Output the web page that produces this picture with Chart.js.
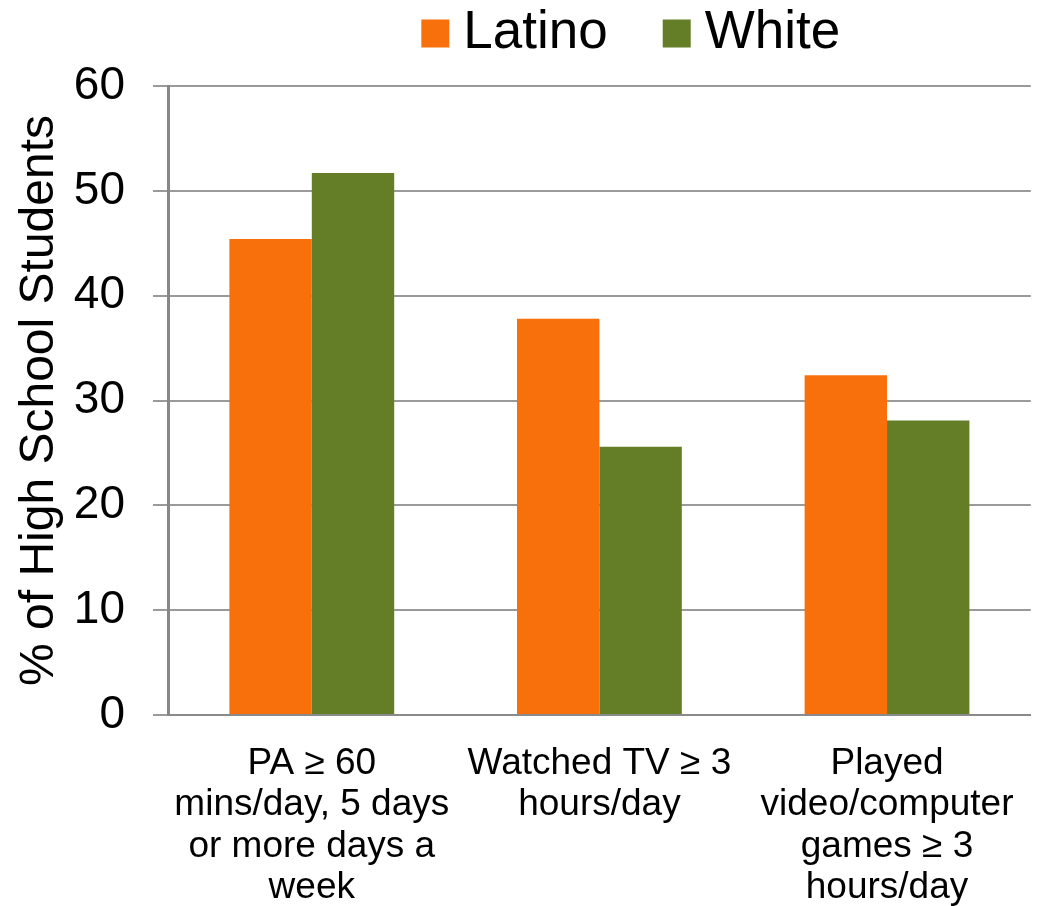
<!DOCTYPE html>
<html><head><meta charset="utf-8">
<script src="https://cdn.jsdelivr.net/npm/chart.js@4.4.1/dist/chart.umd.min.js"></script>
<style>html,body{margin:0;padding:0;background:#fff}#wrap{width:1043px;height:906px}</style>
</head><body><div id="wrap"><canvas id="c" width="1043" height="906"></canvas></div>
<script>
const categories = [
  ["PA ≥ 60", "mins/day, 5 days", "or more days a", "week"],
  ["Watched TV ≥ 3", "hours/day"],
  ["Played", "video/computer", "games ≥ 3", "hours/day"]
];
const seriesNames = ["Latino", "White"];
const latinoValues = [45.4, 37.8, 32.4];
const whiteValues = [51.7, 25.6, 28.1];
const yTickValues = [0, 10, 20, 30, 40, 50, 60];
const yAxisTitle = "% of High School Students";

const FONT = "'Liberation Sans', Arial, Helvetica, sans-serif";

const legendShift = {
  id: 'legendShift',
  afterLayout(chart) {
    const l = chart.legend;
    if (!l) return;
    l.left += 120; l.right += 120;
    l.top -= 16; l.bottom -= 16;
  }
};

new Chart(document.getElementById('c'), {
  type: 'bar',
  data: {
    labels: categories,
    datasets: [
      { label: seriesNames[0], data: latinoValues, backgroundColor: '#F7700B', borderWidth: 0 },
      { label: seriesNames[1], data: whiteValues, backgroundColor: '#647E28', borderWidth: 0 }
    ]
  },
  options: {
    responsive: false,
    animation: false,
    layout: { padding: { top: -44.5, right: 9, left: 0, bottom: 0 } },
    datasets: { bar: { barPercentage: 1.0, categoryPercentage: 0.573 } },
    plugins: {
      legend: {
        position: 'top',
        labels: {
          font: { family: FONT, size: 53 },
          color: '#000',
          boxWidth: 3,
          boxHeight: 3,
          padding: 67.5,
          generateLabels(chart) {
            const base = Chart.defaults.plugins.legend.labels.generateLabels(chart);
            return base.map(it => Object.assign({}, it, { lineWidth: 25, strokeStyle: it.fillStyle, lineJoin: 'miter' }));
          }
        }
      },
      tooltip: { enabled: false }
    },
    scales: {
      x: {
        grid: { display: false, drawTicks: false },
        border: { display: true, color: '#8a8a8a', width: 2 },
        ticks: {
          font: { family: FONT, size: 37, lineHeight: 1.12 },
          color: '#000',
          padding: 28,
          maxRotation: 0,
          autoSkip: false
        },
        afterFit(scale) { scale.height = 191; }
      },
      y: {
        min: 0,
        max: 60,
        afterBuildTicks(scale) { scale.ticks = yTickValues.map(v => ({ value: v })); },
        grid: { color: '#9a9a9a', lineWidth: 2, tickLength: 15, tickColor: '#9a9a9a', drawTicks: true },
        border: { display: true, color: '#878787', width: 3 },
        ticks: {
          font: { family: FONT, size: 46 },
          color: '#000',
          padding: 28
        },
        title: {
          display: true,
          text: yAxisTitle,
          font: { family: FONT, size: 48 },
          color: '#000',
          padding: { top: 11, bottom: 0 }
        },
        afterFit(scale) { scale.width = 168; }
      }
    }
  },
  plugins: [legendShift]
});
</script>
</body></html>
